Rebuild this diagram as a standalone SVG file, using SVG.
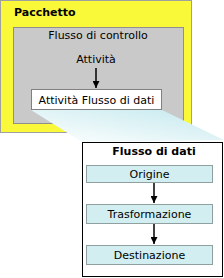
<svg xmlns="http://www.w3.org/2000/svg" width="224" height="278" viewBox="0 0 224 278">
<style>
text{font-family:Verdana,"DejaVu Sans",sans-serif;font-size:11px;fill:#000}
.b{font-weight:bold}
.m{text-anchor:middle}
.step{fill:#d2eef0;stroke:#8fa0a0;stroke-width:1}
.ln{stroke:#000;stroke-width:1.5;fill:none}
</style>
<defs>
<marker id="ah" viewBox="0 0 10 10" refX="10" refY="5" markerWidth="7" markerHeight="7" markerUnits="userSpaceOnUse" orient="auto"><path d="M0,0 L10,5 L0,10 z" fill="#000"/></marker>
<linearGradient id="fan" x1="0" y1="1" x2="1" y2="0"><stop offset="0" stop-color="#ffffff"/><stop offset="1" stop-color="#c4e9ee"/></linearGradient>
</defs>
<g id="pacchetto">
<rect x="0.5" y="0.5" width="191" height="132" fill="#f9f93a" stroke="#a0a0a0"/>
<text class="b" x="14" y="16">Pacchetto</text>
</g>
<g id="flusso-controllo">
<rect x="13.5" y="27.5" width="170" height="96" fill="#c9c9c9" stroke="#909090"/>
<text x="98" y="39" class="m">Flusso di controllo</text>
</g>
<g id="attivita">
<text x="96" y="63" class="m">Attività</text>
</g>
<polygon points="31,110 162,110 224,140 82,142" fill="url(#fan)"/>
<g id="attivita-flusso">
<rect x="31.5" y="89.5" width="130" height="20" fill="#fff" stroke="#808080"/>
<text x="96.5" y="104" class="m">Attività Flusso di dati</text>
</g>
<g id="flusso-dati">
<rect x="82.5" y="142.5" width="140" height="134" fill="#fff" stroke="#000"/>
<text x="154" y="155" class="m b">Flusso di dati</text>
</g>
<g id="origine">
<rect class="step" x="86.5" y="165.5" width="126" height="17"/>
<text x="149.5" y="178" class="m">Origine</text>
</g>
<g id="trasformazione">
<rect class="step" x="86.5" y="204.5" width="126" height="19"/>
<text x="149.5" y="218" class="m">Trasformazione</text>
</g>
<g id="destinazione">
<rect class="step" x="86.5" y="245.5" width="126" height="19"/>
<text x="149.5" y="259" class="m">Destinazione</text>
</g>
<g id="connectors">
<line class="ln" x1="96" y1="68" x2="96" y2="88" marker-end="url(#ah)"/>
<line class="ln" x1="154" y1="183" x2="154" y2="203" marker-end="url(#ah)"/>
<line class="ln" x1="154" y1="224" x2="154" y2="244" marker-end="url(#ah)"/>
</g>
</svg>
